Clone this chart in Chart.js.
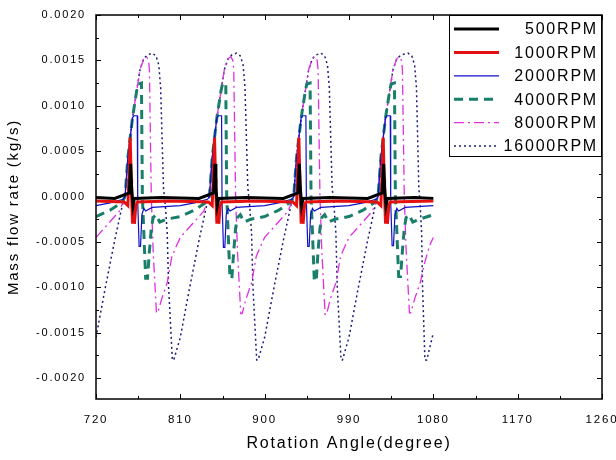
<!DOCTYPE html>
<html>
<head>
  <title>Mass flow rate vs rotation angle</title>
  <script src="https://cdn.jsdelivr.net/npm/chart.js"></script>
  <style>
    body {
      margin: 0;
      background-color: #fff;
    }
    #chart {
      display: block;
    }
  </style>
</head>
<body>
  <canvas id="chart" width="616" height="460"></canvas>

  <script>
    // Angle (degree) / mass flow rate (kg/s) pairs
    const rpm500 = [
      [720,-0.00001],[740,-0.00002],
      [755.5,0.00004],[757,0.00036],[758,0.0001],[759.5,-0.0001],[761,-0.00002],[790,-0.00001],[830,-0.00002],
      [845.5,0.00004],[847,0.00036],[848,0.0001],[849.5,-0.0001],[851,-0.00002],[880,-0.00001],[920,-0.00002],
      [935.5,0.00004],[937,0.00036],[938,0.0001],[939.5,-0.0001],[941,-0.00002],[970,-0.00001],[1010,-0.00002],
      [1025.5,0.00004],[1027,0.00036],[1028,0.0001],[1029.5,-0.0001],[1031,-0.00002],[1060,-0.00001],[1080,-0.00002]
    ];

    const rpm1000 = [
      [720,-0.00005],[750,-0.00006],[754,-0.0001],[755.5,0.0003],[756.5,0.00065],[757.5,0.0002],[758,0],[759,-0.0003],[760,-0.0001],[761,-0.0003],[762.5,-0.0001],[764,-0.00006],[800,-0.00005],
      [840,-0.00006],[844,-0.0001],[845.5,0.0003],[846.5,0.00065],[847.5,0.0002],[848,0],[849,-0.0003],[850,-0.0001],[851,-0.0003],[852.5,-0.0001],[854,-0.00006],[890,-0.00005],
      [930,-0.00006],[934,-0.0001],[935.5,0.0003],[936.5,0.00065],[937.5,0.0002],[938,0],[939,-0.0003],[940,-0.0001],[941,-0.0003],[942.5,-0.0001],[944,-0.00006],[980,-0.00005],
      [1020,-0.00006],[1024,-0.0001],[1025.5,0.0003],[1026.5,0.00065],[1027.5,0.0002],[1028,0],[1029,-0.0003],[1030,-0.0001],[1031,-0.0003],[1032.5,-0.0001],[1034,-0.00006],[1080,-0.00005]
    ];

    const rpm2000 = [
      [720,-0.0001],[735,-0.00007],[749,-0.00003],
      [751,0],[754,0.00043],[759,0.00087],[760.5,0.00089],[764,0.00089],[764.5,-0.00005],[766,-0.00055],[767.5,-0.00055],[769,-0.0002],[771,-0.00013],[773,-0.00016],[780,-0.00012],[810,-0.0001],[825,-0.00007],[839,-0.00003],
      [841,0],[844,0.00043],[849,0.00087],[850.5,0.00089],[854,0.00089],[854.5,-0.00005],[856,-0.00056],[857.5,-0.00056],[859,-0.0002],[861,-0.00013],[863,-0.00016],[870,-0.00012],[900,-0.0001],[915,-0.00007],[929,-0.00003],
      [931,0],[934,0.00043],[939,0.00087],[940.5,0.00089],[944,0.00089],[944.5,-0.00005],[946,-0.00055],[947.5,-0.00055],[949,-0.0002],[951,-0.00013],[953,-0.00016],[960,-0.00012],[990,-0.0001],[1005,-0.00007],[1019,-0.00003],
      [1021,0],[1024,0.00043],[1029,0.00087],[1030.5,0.00089],[1034,0.00089],[1034.5,-0.00005],[1036,-0.00054],[1037.5,-0.00054],[1039,-0.0002],[1041,-0.00013],[1043,-0.00016],[1050,-0.00012],[1080,-0.0001]
    ];

    const rpm4000 = [
      [720,-0.00022],[735,-0.00015],[748,-0.00006],
      [751,0],[754,0.00043],[759,0.00087],[763.5,0.00117],[765,0.00124],[768.5,0.00125],[769.5,0],[773,-0.0009],[775,-0.0009],[777,-0.0006],[779,-0.00035],[781,-0.00023],[784,-0.0002],[788,-0.00028],[795,-0.00025],[810,-0.00022],[825,-0.00015],[838,-0.00006],
      [841,0],[844,0.00043],[849,0.00087],[853.5,0.00117],[855,0.00124],[858.5,0.00125],[859.5,0],[863,-0.0009],[865,-0.0009],[867,-0.0006],[869,-0.00035],[871,-0.00023],[874,-0.0002],[878,-0.00028],[885,-0.00025],[900,-0.00022],[915,-0.00015],[928,-0.00006],
      [931,0],[934,0.00043],[939,0.00087],[943.5,0.00117],[945,0.00124],[948.5,0.00125],[949.5,0],[953,-0.00093],[955,-0.00093],[957,-0.0006],[959,-0.00035],[961,-0.00023],[964,-0.0002],[968,-0.00028],[975,-0.00025],[990,-0.00022],[1005,-0.00015],[1018,-0.00006],
      [1021,0],[1024,0.00043],[1029,0.00087],[1033.5,0.00117],[1035,0.00124],[1038.5,0.00125],[1039.5,0],[1043,-0.00088],[1045,-0.00088],[1047,-0.0006],[1049,-0.00035],[1051,-0.00023],[1054,-0.0002],[1058,-0.00028],[1065,-0.00025],[1080,-0.0002]
    ];

    const rpm8000 = [
      [720,-0.00045],[733,-0.0003],[745,-0.00016],[750,-0.00003],
      [751,0],[754,0.00043],[759,0.00087],[763.5,0.00117],[767,0.0014],[771,0.00152],[774,0.00154],[776,0.0015],[777,0.0014],[778,0.0007],[779,0],[781,-0.0006],[784.5,-0.00128],[786,-0.00128],[790,-0.00113],[796,-0.00095],[801,-0.00066],[806,-0.00054],[810,-0.00045],[823,-0.0003],[835,-0.00016],[840,-0.00003],
      [841,0],[844,0.00043],[849,0.00087],[853.5,0.00117],[857,0.0014],[861,0.00152],[864,0.00154],[866,0.0015],[867,0.0014],[868,0.0007],[869,0],[871,-0.0006],[874.5,-0.00129],[876,-0.00129],[880,-0.00113],[886,-0.00095],[891,-0.00066],[896,-0.00054],[900,-0.00045],[913,-0.0003],[925,-0.00016],[930,-0.00003],
      [931,0],[934,0.00043],[939,0.00087],[943.5,0.00117],[947,0.0014],[951,0.00152],[954,0.00154],[956,0.0015],[957,0.0014],[958,0.0007],[959,0],[961,-0.0006],[964.5,-0.0013],[966,-0.0013],[970,-0.00113],[976,-0.00095],[981,-0.00066],[986,-0.00054],[990,-0.00045],[1003,-0.0003],[1015,-0.00016],[1020,-0.00003],
      [1021,0],[1024,0.00043],[1029,0.00087],[1033.5,0.00117],[1037,0.0014],[1041,0.00152],[1044,0.00154],[1046,0.0015],[1047,0.0014],[1048,0.0007],[1049,0],[1051,-0.0006],[1054.5,-0.00128],[1056,-0.00128],[1060,-0.00113],[1066,-0.00095],[1071,-0.00072],[1076,-0.00054],[1080,-0.00045]
    ];

    const rpm16000 = [
      [720,-0.00155],[730,-0.001],[740,-0.00048],[748,-0.0001],
      [751,0],[754,0.00043],[759,0.00087],[763.5,0.00117],[767,0.0014],[771,0.00152],[775,0.00156],[780,0.00158],[784,0.00155],[787,0.00145],[789,0.0012],[792,0.0001],[794,-0.0001],[796,-0.0004],[797.5,-0.001],[801.5,-0.0018],[803,-0.0018],[810,-0.00155],[820,-0.001],[830,-0.00048],[838,-0.0001],
      [841,0],[844,0.00043],[849,0.00087],[853.5,0.00117],[857,0.0014],[861,0.00152],[865,0.00156],[870,0.00158],[874,0.00155],[877,0.00145],[879,0.0012],[882,0.0001],[884,-0.0001],[886,-0.0004],[887.5,-0.001],[891.5,-0.0018],[893,-0.0018],[900,-0.00155],[910,-0.001],[920,-0.00048],[928,-0.0001],
      [931,0],[934,0.00043],[939,0.00087],[943.5,0.00117],[947,0.0014],[951,0.00152],[955,0.00156],[960,0.00158],[964,0.00155],[967,0.00145],[969,0.0012],[972,0.0001],[974,-0.0001],[976,-0.0004],[977.5,-0.001],[981.5,-0.0018],[983,-0.0018],[990,-0.00155],[1000,-0.001],[1010,-0.00048],[1018,-0.0001],
      [1021,0],[1024,0.00043],[1029,0.00087],[1033.5,0.00117],[1037,0.0014],[1041,0.00152],[1046,0.00156],[1053,0.00158],[1057,0.00155],[1060,0.00145],[1062,0.0012],[1064.5,0.0001],[1066,-0.0001],[1067.5,-0.0004],[1068.5,-0.001],[1071,-0.0018],[1073,-0.0018],[1080,-0.0015]
    ];

    const seriesNames = ['500RPM', '1000RPM', '2000RPM', '4000RPM', '8000RPM', '16000RPM'];
    const seriesData = [rpm500, rpm1000, rpm2000, rpm4000, rpm8000, rpm16000];

    // x axis: 720..1260 every 90, y axis: -0.0020..0.0020 every 0.0005
    const xMin = 720, xMax = 1260, xStep = 90;
    const yMin = -0.00223, yMax = 0.002, yStep = 0.0005;

    const colors = ['#000000', '#e41010', '#1010c8', '#1a7f6a', '#e030e0', '#1c1c78'];
    const widths = [3, 3, 1.2, 3, 1.3, 1.5];
    const dashes = [[], [], [], [9, 6], [10, 4, 2, 4], [2, 3]];

    const FONT = "'Liberation Sans', Arial, sans-serif";

    // spacing like the original export
    const spacingPlugin = {
      id: 'spacing',
      beforeLayout(chart) { chart.ctx.letterSpacing = '1.8px'; },
      beforeDraw(chart) { chart.ctx.letterSpacing = '1.8px'; }
    };

    // frame round the plot with inward tick marks on every side
    const framePlugin = {
      id: 'frame',
      afterDatasetsDraw(chart) {
        const { ctx, chartArea: a, scales } = chart;
        const xs = scales.x, ys = scales.y;
        ctx.save();
        ctx.strokeStyle = '#000';
        ctx.lineWidth = 1.5;
        ctx.strokeRect(a.left, a.top, a.right - a.left, a.bottom - a.top);
        ctx.lineWidth = 1;
        ctx.beginPath();
        xs.ticks.forEach(t => {
          const maj = Math.round(xs.getPixelForValue(t.value)) + 0.5;
          ctx.moveTo(maj, a.bottom); ctx.lineTo(maj, a.bottom - 5);
          ctx.moveTo(maj, a.top); ctx.lineTo(maj, a.top + 5);
          const mv = t.value + xStep / 2;
          if (mv < xMax) {
            const mn = Math.round(xs.getPixelForValue(mv)) + 0.5;
            ctx.moveTo(mn, a.bottom); ctx.lineTo(mn, a.bottom - 3);
            ctx.moveTo(mn, a.top); ctx.lineTo(mn, a.top + 3);
          }
        });
        ys.ticks.forEach(t => {
          const maj = Math.round(ys.getPixelForValue(t.value)) + 0.5;
          ctx.moveTo(a.left, maj); ctx.lineTo(a.left + 5, maj);
          ctx.moveTo(a.right, maj); ctx.lineTo(a.right - 5, maj);
          const mv = t.value + yStep / 2;
          if (mv < yMax) {
            const mn = Math.round(ys.getPixelForValue(mv)) + 0.5;
            ctx.moveTo(a.left, mn); ctx.lineTo(a.left + 3, mn);
            ctx.moveTo(a.right, mn); ctx.lineTo(a.right - 3, mn);
          }
        });
        ctx.stroke();
        ctx.restore();
      }
    };

    // boxed legend in the top right corner of the plot
    const legendBoxPlugin = {
      id: 'legendBox',
      afterDraw(chart) {
        const { ctx, chartArea: a } = chart;
        const boxL = a.right - 153, boxT = a.top, boxH = 141;
        ctx.save();
        ctx.fillStyle = '#fff';
        ctx.fillRect(boxL, boxT, a.right - boxL, boxH);
        ctx.strokeStyle = '#000';
        ctx.lineWidth = 1;
        ctx.strokeRect(boxL + 0.5, boxT + 0.5, a.right - boxL - 1, boxH);
        chart.data.datasets.forEach((ds, i) => {
          const y = boxT + 14 + i * 23.4;
          ctx.beginPath();
          ctx.setLineDash(ds.borderDash);
          ctx.lineWidth = ds.borderWidth;
          ctx.strokeStyle = ds.borderColor;
          ctx.moveTo(boxL + 5, y);
          ctx.lineTo(boxL + 50, y);
          ctx.stroke();
          ctx.setLineDash([]);
          ctx.fillStyle = '#000';
          ctx.font = '16px ' + FONT;
          ctx.textAlign = 'right';
          ctx.textBaseline = 'middle';
          ctx.fillText(ds.label, a.right - 4, y + 1);
        });
        ctx.restore();
      }
    };

    const ctx = document.getElementById('chart').getContext('2d');
    new Chart(ctx, {
      type: 'line',
      data: {
        datasets: seriesNames.map((name, i) => ({
          label: name,
          data: seriesData[i].map(p => ({ x: p[0], y: p[1] })),
          borderColor: colors[i],
          backgroundColor: colors[i],
          borderWidth: widths[i],
          borderDash: dashes[i],
          pointRadius: 0,
          tension: 0,
          fill: false
        }))
      },
      options: {
        responsive: false,
        animation: false,
        devicePixelRatio: 1,
        layout: { padding: { top: 15, right: 14, bottom: 0, left: 0 } },
        plugins: {
          legend: { display: false },
          tooltip: { enabled: false }
        },
        scales: {
          x: {
            type: 'linear',
            min: xMin,
            max: xMax,
            grid: { display: false, drawTicks: false },
            border: { display: false },
            ticks: {
              stepSize: xStep,
              padding: 14,
              color: '#000',
              font: { family: FONT, size: 11.5 },
              maxRotation: 0,
              callback: v => String(v)
            },
            title: {
              display: true,
              text: 'Rotation Angle(degree)',
              color: '#000',
              font: { family: FONT, size: 16 },
              padding: { top: 4, bottom: 7 }
            },
            afterFit(scale) {
              scale.height = 61;
              scale.paddingLeft = 0;
              scale.paddingRight = 0;
            }
          },
          y: {
            min: yMin,
            max: yMax,
            grid: { display: false, drawTicks: false },
            border: { display: false },
            ticks: {
              stepSize: yStep,
              includeBounds: false,
              padding: 10,
              color: '#000',
              font: { family: FONT, size: 11 },
              callback: v => v.toFixed(4)
            },
            title: {
              display: true,
              text: 'Mass flow rate (kg/s)',
              color: '#000',
              font: { family: FONT, size: 15 },
              padding: { top: 5, bottom: 0 }
            },
            afterFit(scale) {
              scale.width = 96;
              scale.paddingTop = 0;
              scale.paddingBottom = 0;
            }
          }
        }
      },
      plugins: [spacingPlugin, framePlugin, legendBoxPlugin]
    });
  </script>
</body>
</html>
